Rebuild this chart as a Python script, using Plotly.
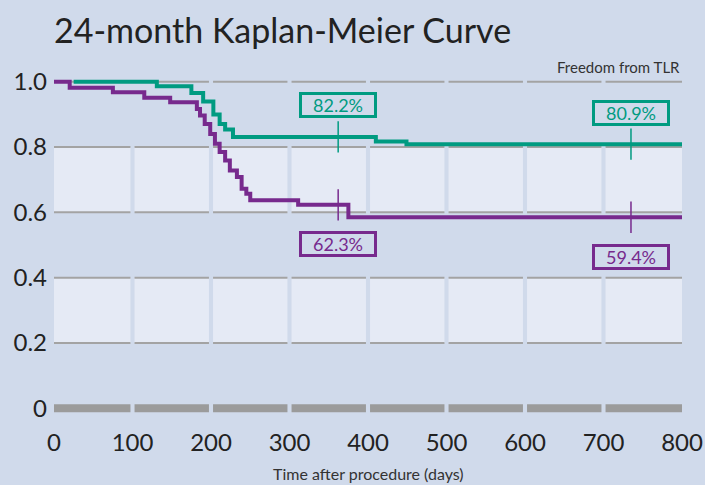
import plotly.graph_objects as go

# ---- data ----
teal_days = [25, 131, 175, 190, 203, 211, 218, 228, 410, 449, 800]
teal_surv = [1.0, 0.986, 0.966, 0.940, 0.900, 0.871, 0.854, 0.831, 0.817, 0.809, 0.809]
purple_days = [0, 20, 75, 115, 148, 182, 186, 192, 199, 205, 211, 218, 224, 233, 239, 245, 250, 311, 375, 800]
purple_surv = [1.0, 0.982, 0.968, 0.951, 0.937, 0.917, 0.897, 0.871, 0.840, 0.810, 0.785, 0.759,
               0.728, 0.708, 0.672, 0.657, 0.637, 0.623, 0.585, 0.585]

mark_days = [362, 735]
teal_marks = [0.831, 0.809]
purple_marks = [0.623, 0.585]
teal_labels = ["82.2%", "80.9%"]
purple_labels = ["62.3%", "59.4%"]
teal_label_y = [0.930, 0.905]
purple_label_y = [0.503, 0.464]

x_ticks = [0, 100, 200, 300, 400, 500, 600, 700, 800]
y_ticks = [0, 0.2, 0.4, 0.6, 0.8, 1.0]
y_ticktext = ["0", "0.2", "0.4", "0.6", "0.8", "1.0"]

TEAL = "#009b81"
PURPLE = "#772a8d"
BG = "#d0daeb"
CELL = "#e5eaf5"
GRID = "#a3a3a3"
FONT = "Lato"

fig = go.Figure()

# step curves
fig.add_trace(go.Scatter(x=teal_days, y=teal_surv, mode="lines", line=dict(color=TEAL, width=4, shape="hv"),
                         showlegend=False, hoverinfo="skip"))
fig.add_trace(go.Scatter(x=purple_days, y=purple_surv, mode="lines", line=dict(color=PURPLE, width=4, shape="hv"),
                         showlegend=False, hoverinfo="skip"))

# time-point ticks
tick_half = 0.048
for d, v in zip(mark_days, teal_marks):
    fig.add_trace(go.Scatter(x=[d, d], y=[v - tick_half, v + tick_half], mode="lines",
                             line=dict(color=TEAL, width=1.5), showlegend=False, hoverinfo="skip"))
for d, v in zip(mark_days, purple_marks):
    fig.add_trace(go.Scatter(x=[d, d], y=[v - tick_half, v + tick_half], mode="lines",
                             line=dict(color=PURPLE, width=1.5), showlegend=False, hoverinfo="skip"))

shapes = []
gap = 2.6  # half gap in days between cells
for (y0, y1) in [(0.2, 0.4), (0.6, 0.8)]:
    for i in range(len(x_ticks) - 1):
        a = x_ticks[i] + (gap if i > 0 else 0)
        b = x_ticks[i + 1] - (gap if i < len(x_ticks) - 2 else 0)
        shapes.append(dict(type="rect", xref="x", yref="y", x0=a, x1=b, y0=y0, y1=y1,
                           fillcolor=CELL, line=dict(width=0), layer="below"))
for yv in y_ticks:
    for i in range(len(x_ticks) - 1):
        a = x_ticks[i] + (gap if i > 0 else 0)
        b = x_ticks[i + 1] - (gap if i < len(x_ticks) - 2 else 0)
        if yv == 0:
            shapes.append(dict(type="line", xref="x", yref="y", x0=a, x1=b, y0=yv, y1=yv,
                               line=dict(color="#9b9b9b", width=8), layer="below"))
        else:
            shapes.append(dict(type="line", xref="x", yref="y", x0=a, x1=b, y0=yv, y1=yv,
                               line=dict(color=GRID, width=2), layer="below"))

annotations = []
for d, yl, t in zip(mark_days, teal_label_y, teal_labels):
    annotations.append(dict(x=d, y=yl, xref="x", yref="y", text=t, showarrow=False,
                            font=dict(family=FONT, size=18, color=TEAL),
                            bordercolor=TEAL, borderwidth=3, borderpad=1, width=70, height=18))
for d, yl, t in zip(mark_days, purple_label_y, purple_labels):
    annotations.append(dict(x=d, y=yl, xref="x", yref="y", text=t, showarrow=False,
                            font=dict(family=FONT, size=18, color=PURPLE),
                            bordercolor=PURPLE, borderwidth=3, borderpad=1, width=70, height=18))

annotations.append(dict(x=1, y=1.0, xref="paper", yref="y", yshift=15, xanchor="right", yanchor="middle",
                        text="Freedom from TLR", showarrow=False,
                        font=dict(family=FONT, size=15, color="#333333")))
annotations.append(dict(x=400, y=0, xref="x", yref="paper", yshift=-44, xanchor="center", yanchor="top",
                        text="Time after procedure (days)", showarrow=False,
                        font=dict(family=FONT, size=16, color="#333333")))

fig.update_layout(
    width=705, height=485,
    margin=dict(l=54, r=23, t=72, b=67, autoexpand=False),
    paper_bgcolor=BG, plot_bgcolor=BG,
    title=dict(text="24-month Kaplan-Meier Curve", x=54 / 705, xref="container", xanchor="left",
               y=1 - 31 / 485, yref="container", yanchor="middle",
               font=dict(family=FONT, size=34, color="#222222")),
    shapes=shapes, annotations=annotations,
    xaxis=dict(range=[0, 800], tickvals=x_ticks, showgrid=False, zeroline=False, showline=False,
               ticks="", tickfont=dict(family=FONT, size=24, color="#222222"), ticklabelstandoff=8,
               fixedrange=True, automargin=False),
    yaxis=dict(range=[-0.03, 1.03], tickvals=y_ticks, ticktext=y_ticktext, showgrid=False, zeroline=False,
               showline=False, ticks="", tickfont=dict(family=FONT, size=24, color="#222222"),
               ticklabelstandoff=6, fixedrange=True, automargin=False),
)

fig.write_html("out.html", config={"displayModeBar": False},
               post_script="document.body.style.margin='0';document.body.style.background='%s';" % BG)
